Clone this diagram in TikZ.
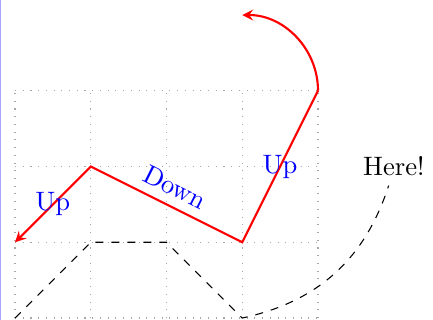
\documentclass[tikz,border=0pt]{standalone}
\tikzset{
  gridlines/.style={gray!70, line width=0.4pt, dash pattern=on 0.4pt off 2.5pt},
  redpath/.style={red, thick, -stealth},
  lbl/.style={blue},
}
\begin{document}
\begin{tikzpicture}
\useasboundingbox (-0.198,-0.026) rectangle (5.518,4.198);
\draw[blue!35, line width=0.6pt] (-0.19,-0.026) -- (-0.19,4.198);
\draw[gridlines] (0,0) grid (4,3);
\coordinate (p0) at (4,3);
\coordinate (p1) at (3,1);
\coordinate (p2) at (1,2);
\coordinate (p3) at (0,1);
\coordinate (q0) at (0,0);
\coordinate (q1) at (1,1);
\coordinate (q2) at (2,1);
\coordinate (q3) at (3,0);
\draw[redpath] (p0) -- node[lbl, midway] (u1) {Up} (p1)
  -- node[lbl, midway, sloped, above] (d1) {Down} (p2)
  -- node[lbl, midway] (u2) {Up} (p3);
\draw[redpath] (p0) arc (0:90:1);
\node (here) at (5,2) {Here!};
\draw[dashed] (q0) -- (q1) -- (q2) -- (q3) to[bend right=30] (here);
\end{tikzpicture}
\end{document}
